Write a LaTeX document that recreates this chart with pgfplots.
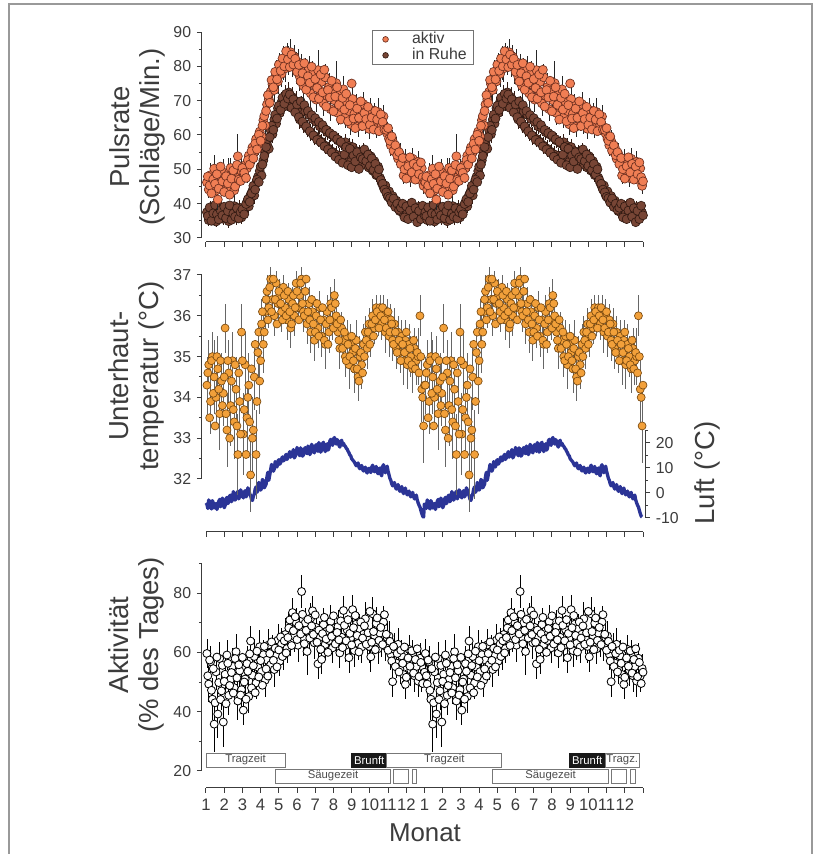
\documentclass[border=0pt]{standalone}
\usepackage{fontspec}
\setmainfont{Liberation Sans}
\usepackage{pgfplots}
\pgfplotsset{compat=1.18}
\usepackage{pgfplotstable}

\definecolor{aktivfill}{HTML}{F07E54}
\definecolor{aktivdraw}{HTML}{6E3020}
\definecolor{ruhefill}{HTML}{774535}
\definecolor{ruhedraw}{HTML}{321A12}
\definecolor{tfill}{HTML}{F2A03A}
\definecolor{tdraw}{HTML}{7A4A10}
\definecolor{luft}{HTML}{2B3496}
\definecolor{axgray}{HTML}{3C3C3C}
\definecolor{boxgray}{HTML}{777777}

% Pulsrate aktiv: month, value, error
\pgfplotstableread{
x y e
0.05 46.2 3.0
0.15 44.1 2.5
0.25 48.3 3.5
0.35 45.5 2.8
0.45 50.2 4.0
0.55 43.8 2.6
0.65 41.2 3.0
0.75 47.6 3.2
0.85 45.0 2.7
0.95 49.1 3.8
1.05 46.8 2.9
1.15 44.5 3.1
1.25 48.9 4.5
1.35 50.4 3.0
1.45 46.1 2.6
1.55 43.9 3.3
1.65 47.7 2.8
1.75 53.8 6.5
1.85 47.8 3.0
1.95 49.5 3.6
2.05 48.0 2.7
2.15 51.2 3.0
2.25 50.3 4.2
2.35 54.0 2.9
2.45 52.6 3.1
2.55 56.4 3.3
2.65 54.9 3.4
2.75 58.8 2.8
2.85 57.2 3.0
2.95 61.0 3.5
3.05 59.6 2.9
3.15 64.3 3.3
3.25 62.8 3.6
3.35 68.9 3.0
3.45 70.4 3.8
3.55 72.6 3.2
3.65 74.8 4.0
3.75 73.1 3.4
3.85 77.5 4.2
3.95 75.6 3.6
4.05 79.3 4.5
4.15 77.8 3.8
4.25 81.0 5.0
4.35 79.4 4.0
4.45 83.2 3.5
4.55 81.7 4.2
4.65 84.1 3.8
4.75 80.9 4.0
4.85 82.8 3.5
4.95 79.6 4.6
5.05 81.2 3.8
5.15 77.0 4.2
5.25 80.1 3.6
5.35 74.3 4.4
5.45 78.6 3.9
5.55 76.0 4.1
5.65 79.4 3.5
5.75 72.1 4.0
5.85 77.7 3.8
5.95 74.6 4.3
6.05 70.3 3.7
6.15 78.9 6.0
6.25 73.0 3.9
6.35 75.5 4.2
6.45 69.2 3.6
6.55 76.8 4.0
6.65 71.4 3.8
6.75 74.0 4.1
6.85 67.5 3.5
6.95 72.8 3.9
7.05 70.1 3.6
7.15 75.1 6.5
7.25 66.4 3.4
7.35 71.9 3.8
7.45 68.0 3.5
7.55 73.3 4.0
7.65 65.2 3.3
7.75 69.6 3.7
7.85 67.0 3.4
7.95 63.1 3.2
8.05 70.5 5.5
8.15 66.2 3.5
8.25 68.4 3.6
8.35 62.5 3.1
8.45 67.1 3.4
8.55 64.3 3.2
8.65 69.0 3.6
8.75 63.4 3.0
8.85 66.0 3.3
8.95 61.8 3.0
9.05 67.3 3.5
9.15 63.9 3.1
9.25 65.8 3.4
9.35 62.0 3.0
9.45 66.7 4.0
9.55 64.1 3.2
9.65 62.9 3.0
9.75 65.4 3.3
9.85 62.2 3.0
9.95 60.4 3.4
10.05 58.9 3.1
10.15 57.0 3.0
10.25 58.3 3.3
10.35 55.2 2.8
10.45 56.4 3.0
10.55 53.1 2.7
10.65 54.4 3.2
10.75 51.6 2.8
10.85 48.2 2.6
10.95 52.9 3.1
11.05 49.7 2.8
11.15 51.8 3.0
11.25 47.5 2.6
11.35 53.1 3.2
11.45 50.0 2.8
11.55 48.4 2.7
11.65 52.2 3.0
11.75 46.9 2.6
11.85 50.3 2.9
11.95 45.2 2.5
}\tabAa
\pgfplotstableread{
x y
0.1 47.9
0.2 45.3
0.3 43.0
0.4 47.1
0.5 45.8
0.6 48.6
0.7 44.4
0.8 50.8
0.9 46.5
1.0 43.4
1.1 48.0
1.2 45.9
1.3 42.6
1.4 47.3
1.5 49.7
1.6 45.0
1.7 51.3
1.8 47.0
1.9 46.6
2.0 50.4
2.1 49.0
2.2 47.5
2.3 52.7
2.4 51.4
2.5 55.3
2.6 53.2
2.7 57.5
2.8 55.8
2.9 60.1
3.0 58.3
3.1 62.7
3.2 65.5
3.3 67.0
3.4 71.6
3.5 69.4
3.6 76.0
3.7 73.9
3.8 78.4
3.9 76.2
4.0 80.5
4.1 78.7
4.2 82.3
4.3 80.0
4.4 84.4
4.5 82.0
4.6 79.8
4.7 83.4
4.8 80.5
4.9 82.2
5.0 78.4
5.1 80.4
5.2 75.6
5.3 78.0
5.4 80.9
5.5 73.2
5.6 77.1
5.7 75.2
5.8 79.9
5.9 71.0
6.0 76.3
6.1 73.7
6.2 70.6
6.3 77.6
6.4 72.4
6.5 79.0
6.6 68.3
6.7 73.1
6.8 70.9
6.9 75.8
7.0 66.9
7.1 71.2
7.2 73.9
7.3 68.8
7.4 64.5
7.5 70.8
7.6 67.4
7.7 72.0
7.8 64.0
7.9 68.7
8.0 75.0
8.1 64.8
8.2 62.0
8.3 67.7
8.4 65.0
8.5 69.8
8.6 62.6
8.7 66.4
8.8 64.6
8.9 68.2
9.0 63.0
9.1 65.1
9.2 61.6
9.3 67.0
9.4 64.5
9.5 61.1
9.6 66.0
9.7 63.8
9.8 61.6
9.9 61.5
10.0 62.0
10.1 58.3
10.2 59.6
10.3 55.4
10.4 57.0
10.5 54.1
10.6 55.0
10.7 51.5
10.8 53.3
10.9 50.0
11.0 47.3
11.1 50.9
11.2 53.5
11.3 49.1
11.4 51.6
11.5 47.0
11.6 50.8
11.7 48.6
11.8 52.0
11.9 47.7
12.0 46.5
}\tabAb

% Pulsrate in Ruhe
\pgfplotstableread{
x y e
0.05 37.5 2.0
0.15 35.2 1.6
0.25 38.4 2.4
0.35 36.1 1.8
0.45 39.0 2.2
0.55 34.8 1.5
0.65 37.7 2.6
0.75 36.3 1.9
0.85 38.9 2.1
0.95 35.6 1.7
1.05 37.9 2.3
1.15 36.8 1.8
1.25 34.9 2.0
1.35 38.2 1.6
1.45 36.5 2.5
1.55 39.3 1.9
1.65 35.9 2.1
1.75 37.4 1.7
1.85 38.8 2.2
1.95 36.0 1.8
2.05 37.6 2.0
2.15 38.9 1.6
2.25 40.4 2.3
2.35 39.2 1.9
2.45 42.6 2.1
2.55 43.8 1.7
2.65 42.4 2.4
2.75 46.1 2.0
2.85 47.8 1.8
2.95 49.5 2.2
3.05 48.2 2.0
3.15 52.6 2.4
3.25 55.0 2.1
3.35 57.3 2.6
3.45 56.0 2.2
3.55 61.4 2.8
3.65 60.2 2.4
3.75 64.5 3.0
3.85 63.3 2.6
3.95 67.8 3.2
4.05 66.4 2.8
4.15 69.6 3.0
4.25 68.2 2.7
4.35 71.3 3.2
4.45 70.0 2.9
4.55 72.4 3.1
4.65 69.5 2.8
4.75 71.0 3.0
4.85 68.3 2.7
4.95 69.8 2.9
5.05 66.7 2.6
5.15 64.5 2.8
5.25 68.9 2.5
5.35 63.2 2.7
5.45 66.8 2.4
5.55 61.9 2.6
5.65 65.9 2.3
5.75 60.8 2.5
5.85 64.6 2.2
5.95 59.7 2.6
6.05 63.8 2.3
6.15 58.9 2.5
6.25 62.5 2.2
6.35 58.0 2.4
6.45 61.9 2.1
6.55 56.9 2.5
6.65 60.8 2.2
6.75 56.0 2.4
6.85 60.2 2.1
6.95 55.1 2.3
7.05 59.3 2.0
7.15 54.3 2.4
7.25 58.4 2.1
7.35 53.9 2.3
7.45 57.6 2.0
7.55 53.2 2.2
7.65 57.9 2.5
7.75 52.6 2.0
7.85 56.8 2.2
7.95 52.2 1.9
8.05 56.5 2.3
8.15 51.5 2.0
8.25 55.3 2.2
8.35 51.6 1.9
8.45 55.0 2.1
8.55 52.1 1.8
8.65 55.4 2.2
8.75 51.3 1.9
8.85 54.6 2.1
8.95 50.5 1.8
9.05 53.8 2.0
9.15 49.6 1.8
9.25 52.4 2.1
9.35 48.3 1.9
9.45 50.8 2.0
9.55 47.6 1.8
9.65 46.0 2.0
9.75 44.8 1.7
9.85 45.3 1.9
9.95 42.5 1.7
10.05 43.6 1.8
10.15 41.0 1.6
10.25 42.2 1.9
10.35 39.6 1.7
10.45 40.9 1.8
10.55 38.8 1.6
10.65 37.8 1.9
10.75 39.1 1.7
10.85 36.9 1.8
10.95 38.5 1.6
11.05 37.2 1.9
11.15 39.6 1.7
11.25 36.4 2.0
11.35 38.1 1.6
11.45 37.6 1.8
11.55 35.8 2.2
11.65 39.0 1.7
11.75 36.7 1.9
11.85 38.3 1.6
11.95 37.4 1.8
}\tabRa
\pgfplotstableread{
x y
0.1 36.4
0.2 38.9
0.3 35.0
0.4 37.2
0.5 39.6
0.6 36.9
0.7 35.4
0.8 38.0
0.9 36.6
1.0 39.1
1.1 35.8
1.2 37.8
1.3 39.5
1.4 35.3
1.5 37.1
1.6 36.2
1.7 38.7
1.8 35.7
1.9 37.5
2.0 38.4
2.1 36.9
2.2 39.9
2.3 41.3
2.4 40.5
2.5 43.0
2.6 45.2
2.7 44.1
2.8 47.0
2.9 46.3
3.0 50.8
3.1 51.4
3.2 53.9
3.3 56.5
3.4 58.8
3.5 59.4
3.6 62.7
3.7 61.5
3.8 65.9
3.9 64.8
4.0 68.5
4.1 67.3
4.2 70.9
4.3 69.1
4.4 72.0
4.5 70.6
4.6 71.8
4.7 67.9
4.8 70.4
4.9 66.6
5.0 68.9
5.1 65.2
5.2 69.8
5.3 63.9
5.4 68.7
5.5 62.5
5.6 67.0
5.7 61.1
5.8 65.8
5.9 59.9
6.0 64.9
6.1 58.6
6.2 63.8
6.3 57.9
6.4 62.9
6.5 56.7
6.6 61.5
6.7 55.8
6.8 60.6
6.9 54.9
7.0 59.9
7.1 53.7
7.2 58.8
7.3 52.8
7.4 58.0
7.5 51.9
7.6 54.3
7.7 56.5
7.8 51.2
7.9 56.0
8.0 50.6
8.1 54.0
8.2 52.3
8.3 55.0
8.4 50.1
8.5 53.5
8.6 53.0
8.7 55.8
8.8 52.4
8.9 54.3
9.0 51.0
9.1 53.2
9.2 49.8
9.3 51.6
9.4 48.5
9.5 50.0
9.6 46.9
9.7 45.8
9.8 44.1
9.9 43.3
10.0 42.0
10.1 41.6
10.2 40.3
10.3 41.5
10.4 39.0
10.5 40.0
10.6 38.2
10.7 38.8
10.8 40.0
10.9 36.0
11.0 39.2
11.1 35.5
11.2 38.0
11.3 40.3
11.4 36.2
11.5 38.7
11.6 34.6
11.7 37.9
11.8 35.5
11.9 39.4
12.0 36.6
}\tabRb

% Unterhauttemperatur
\pgfplotstableread{
x y e
0.05 34.3 0.7
0.15 34.8 0.6
0.25 33.9 0.8
0.35 35.0 0.6
0.45 34.5 0.9
0.55 34.0 0.7
0.65 34.7 0.8
0.75 33.6 0.9
0.85 34.4 0.7
0.95 34.1 0.8
1.05 35.7 0.6
1.15 33.2 0.9
1.25 34.6 0.8
1.35 33.8 1.0
1.45 34.9 0.7
1.55 33.4 0.9
1.65 34.2 0.8
1.75 32.6 1.0
1.85 33.9 0.9
1.95 35.6 0.7
2.05 33.1 1.0
2.15 34.8 0.8
2.25 33.5 0.9
2.35 34.3 0.8
2.45 32.1 0.9
2.55 33.0 1.0
2.65 34.5 0.8
2.75 32.6 1.1
2.85 35.1 0.7
2.95 34.4 0.8
3.05 35.8 0.6
3.15 35.3 0.7
3.25 36.1 0.5
3.35 36.6 0.4
3.45 36.2 0.5
3.55 36.9 0.3
3.65 36.4 0.4
3.75 36.0 0.5
3.85 36.8 0.3
3.95 36.3 0.4
4.05 36.5 0.4
4.15 36.1 0.5
4.25 36.7 0.3
4.35 36.2 0.4
4.45 35.9 0.5
4.55 36.4 0.4
4.65 35.7 0.5
4.75 36.3 0.4
4.85 36.0 0.5
4.95 36.8 0.3
5.05 36.2 0.4
5.15 36.5 0.4
5.25 36.9 0.3
5.35 36.1 0.5
5.45 36.6 0.4
5.55 35.8 0.5
5.65 36.3 0.4
5.75 35.6 0.5
5.85 36.1 0.4
5.95 35.4 0.5
6.05 36.0 0.4
6.15 35.7 0.5
6.25 36.2 0.4
6.35 35.5 0.5
6.45 35.9 0.4
6.55 35.3 0.6
6.65 36.1 0.4
6.75 35.6 0.5
6.85 36.3 0.4
6.95 35.9 0.5
7.05 36.5 0.4
7.15 36.0 0.5
7.25 35.6 0.4
7.35 35.2 0.5
7.45 35.7 0.4
7.55 35.4 0.5
7.65 35.0 0.5
7.75 35.5 0.4
7.85 34.8 0.6
7.95 35.3 0.5
8.05 35.1 0.5
8.15 34.7 0.6
8.25 35.4 0.5
8.35 34.5 0.6
8.45 35.0 0.5
8.55 34.8 0.6
8.65 35.3 0.5
8.75 35.6 0.4
8.85 35.2 0.5
8.95 35.8 0.4
9.05 35.5 0.5
9.15 36.0 0.4
9.25 35.7 0.4
9.35 36.2 0.3
9.45 35.9 0.4
9.55 36.2 0.3
9.65 35.8 0.4
9.75 36.1 0.4
9.85 35.6 0.5
9.95 36.0 0.4
10.05 35.5 0.5
10.15 35.9 0.4
10.25 35.4 0.5
10.35 35.8 0.4
10.45 35.2 0.5
10.55 35.6 0.4
10.65 35.1 0.5
10.75 35.5 0.4
10.85 34.9 0.6
10.95 35.4 0.5
11.05 34.8 0.6
11.15 35.3 0.5
11.25 35.0 0.5
11.35 34.7 0.6
11.45 35.2 0.5
11.55 34.9 0.6
11.65 35.0 0.7
11.75 36.0 0.5
11.85 34.2 0.8
11.95 33.3 0.9
}\tabTa
\pgfplotstableread{
x y
0.1 34.6
0.2 33.5
0.3 34.9
0.4 34.1
0.5 33.3
0.6 35.0
0.7 34.2
0.8 34.9
0.9 33.8
1.0 34.5
1.1 33.6
1.2 34.9
1.3 33.0
1.4 34.4
1.5 33.7
1.6 34.8
1.7 33.3
1.8 34.6
1.9 33.1
2.0 34.9
2.1 33.7
2.2 32.6
2.3 34.0
2.4 33.4
2.5 34.7
2.6 33.2
2.7 35.3
2.8 33.9
2.9 35.6
3.0 34.9
3.1 36.1
3.2 35.6
3.3 36.4
3.4 35.9
3.5 36.7
3.6 36.1
3.7 36.9
3.8 36.4
3.9 35.8
4.0 36.6
4.1 36.3
4.2 35.9
4.3 36.5
4.4 36.0
4.5 36.6
4.6 36.1
4.7 35.8
4.8 36.5
4.9 36.2
5.0 36.6
5.1 35.9
5.2 36.8
5.3 36.3
5.4 36.0
5.5 36.9
5.6 36.1
5.7 35.9
5.8 36.4
5.9 35.8
6.0 35.6
6.1 36.3
6.2 35.5
6.3 35.9
6.4 36.2
6.5 35.4
6.6 35.8
6.7 35.3
6.8 35.9
6.9 36.2
7.0 35.7
7.1 36.3
7.2 35.8
7.3 35.4
7.4 35.9
7.5 35.2
7.6 35.6
7.7 34.9
7.8 35.3
7.9 35.0
8.0 35.5
8.1 34.9
8.2 35.2
8.3 34.7
8.4 34.4
8.5 35.1
8.6 34.6
8.7 35.0
8.8 35.4
8.9 35.6
9.0 35.3
9.1 35.8
9.2 35.5
9.3 35.9
9.4 36.1
9.5 35.7
9.6 36.0
9.7 36.2
9.8 35.9
9.9 35.7
10.0 36.1
10.1 35.6
10.2 35.8
10.3 35.3
10.4 35.6
10.5 35.1
10.6 35.4
10.7 34.9
10.8 35.3
10.9 35.1
11.0 35.6
11.1 34.9
11.2 35.2
11.3 34.8
11.4 35.4
11.5 34.7
11.6 35.1
11.7 34.6
11.8 35.0
11.9 34.0
12.0 34.3
}\tabTb

% Lufttemperatur (right axis)
\pgfplotstableread{
x y
0.00 -4.0
0.05 -4.5
0.10 -6.2
0.15 -2.8
0.20 -3.9
0.25 -5.6
0.30 -6.4
0.35 -3.1
0.40 -4.0
0.45 -6.0
0.50 -5.2
0.55 -4.2
0.60 -6.6
0.65 -5.3
0.70 -3.4
0.75 -2.6
0.80 -5.5
0.85 -4.8
0.90 -2.1
0.95 -3.0
1.00 -5.9
1.05 -5.1
1.10 -2.5
1.15 -1.8
1.20 -4.3
1.25 -3.6
1.30 -1.2
1.35 -0.9
1.40 -3.5
1.45 -2.7
1.50 0.5
1.55 -0.4
1.60 -2.9
1.65 -2.2
1.70 -0.1
1.75 0.6
1.80 -2.4
1.85 -1.5
1.90 1.2
1.95 0.3
2.00 -1.2
2.05 -2.0
2.10 0.2
2.15 0.9
2.20 -1.6
2.25 -0.8
2.30 2.0
2.35 1.2
2.40 -0.3
2.45 -1.1
2.50 -2.6
2.55 -3.0
2.60 -1.4
2.65 -0.5
2.70 1.5
2.75 2.4
2.80 0.2
2.85 1.0
2.90 4.1
2.95 3.6
3.00 1.1
3.05 1.8
3.10 5.3
3.15 4.9
3.20 2.0
3.25 2.7
3.30 3.4
3.35 6.5
3.40 8.2
3.45 5.0
3.50 7.1
3.55 9.2
3.60 11.3
3.65 10.6
3.70 8.6
3.75 9.5
3.80 12.4
3.85 11.8
3.90 10.3
3.95 12.6
4.00 13.2
4.05 11.4
4.10 12.0
4.15 13.5
4.20 14.3
4.25 12.7
4.30 13.1
4.35 14.6
4.40 15.3
4.45 13.3
4.50 14.0
4.55 15.4
4.60 16.4
4.65 14.2
4.70 15.0
4.75 16.1
4.80 17.2
4.85 13.9
4.90 14.6
4.95 15.7
5.00 18.0
5.05 17.3
5.10 15.5
5.15 14.8
5.20 17.9
5.25 16.6
5.30 14.6
5.35 15.1
5.40 17.4
5.45 18.0
5.50 16.2
5.55 15.6
5.60 18.6
5.65 17.7
5.70 15.2
5.75 16.0
5.80 19.3
5.85 18.6
5.90 16.7
5.95 15.9
6.00 18.4
6.05 19.2
6.10 17.4
6.15 16.5
6.20 20.0
6.25 18.8
6.30 16.2
6.35 17.0
6.40 19.6
6.45 20.1
6.50 17.8
6.55 16.4
6.60 18.7
6.65 19.5
6.70 17.0
6.75 17.6
6.80 20.6
6.85 21.3
6.90 19.6
6.95 18.9
7.00 21.4
7.05 22.0
7.10 20.5
7.15 19.4
7.20 21.2
7.25 20.6
7.30 18.9
7.35 18.2
7.40 20.4
7.45 20.9
7.50 19.0
7.55 19.7
7.60 18.9
7.65 18.5
7.70 17.8
7.75 17.4
7.80 16.6
7.85 16.0
7.90 15.1
7.95 14.7
8.00 13.6
8.05 13.1
8.10 12.7
8.15 12.2
8.20 11.5
8.25 10.8
8.30 11.2
8.35 11.9
8.40 10.2
8.45 9.6
8.50 10.4
8.55 10.9
8.60 9.3
8.65 8.7
8.70 9.6
8.75 10.2
8.80 8.5
8.85 7.9
8.90 9.1
8.95 9.8
9.00 8.6
9.05 8.1
9.10 10.2
9.15 11.0
9.20 9.0
9.25 8.4
9.30 9.8
9.35 10.5
9.40 8.3
9.45 7.6
9.50 9.1
9.55 9.9
9.60 7.5
9.65 6.8
9.70 10.4
9.75 11.2
9.80 8.9
9.85 8.0
9.90 9.7
9.95 10.6
10.00 8.6
10.05 7.2
10.10 5.8
10.15 5.0
10.20 3.6
10.25 2.8
10.30 3.5
10.35 4.1
10.40 2.3
10.45 1.5
10.50 2.5
10.55 3.3
10.60 1.4
10.65 0.6
10.70 1.8
10.75 2.5
10.80 0.5
10.85 -0.3
10.90 1.0
10.95 1.9
11.00 0.1
11.05 -0.8
11.10 0.0
11.15 0.7
11.20 -0.8
11.25 -1.6
11.30 -0.5
11.35 0.2
11.40 -1.5
11.45 -2.4
11.50 -1.6
11.55 -0.9
11.60 -2.8
11.65 -4.0
11.70 -4.9
11.75 -5.6
11.80 -7.0
11.85 -8.2
11.90 -9.3
11.95 -9.6
12.00 -4.0
}\tabL

% Aktivitaet
\pgfplotstableread{
x y e
0.05 59.6 5.0
0.15 49.3 6.0
0.25 56.8 5.5
0.35 44.2 7.0
0.45 35.8 9.5
0.55 53.4 6.0
0.65 39.2 8.0
0.75 57.9 5.5
0.85 47.0 6.5
0.95 36.5 8.5
1.05 52.6 6.0
1.15 59.1 5.0
1.25 45.5 6.5
1.35 50.9 5.5
1.45 55.3 6.0
1.55 48.1 5.5
1.65 60.2 6.0
1.75 43.6 6.5
1.85 53.8 5.5
1.95 47.4 6.0
2.05 40.5 5.0
2.15 51.0 5.5
2.25 56.2 6.0
2.35 45.1 5.5
2.45 63.8 5.0
2.55 52.3 5.5
2.65 58.6 6.0
2.75 49.7 5.5
2.85 55.0 5.0
2.95 61.9 5.5
3.05 53.5 6.0
3.15 59.2 5.0
3.25 50.6 5.5
3.35 57.4 5.0
3.45 62.5 5.5
3.55 55.8 5.0
3.65 60.3 5.5
3.75 54.2 6.0
3.85 58.9 5.0
3.95 64.1 5.5
4.05 57.0 5.0
4.15 62.8 5.5
4.25 59.1 5.0
4.35 66.0 5.5
4.45 61.3 5.0
4.55 68.2 5.5
4.65 63.7 5.0
4.75 73.4 5.0
4.85 65.5 5.5
4.95 70.1 5.0
5.05 62.4 5.5
5.15 67.8 5.0
5.25 80.5 5.5
5.35 64.6 6.0
5.45 69.9 5.0
5.55 60.3 8.0
5.65 66.9 5.5
5.75 71.5 5.0
5.85 74.0 5.0
5.95 63.2 5.5
6.05 68.4 5.0
6.15 56.1 5.0
6.25 65.0 5.5
6.35 57.6 5.0
6.45 69.3 5.5
6.55 62.7 5.0
6.65 67.2 5.5
6.75 64.0 5.0
6.85 70.4 5.5
6.95 61.5 5.0
7.05 66.3 5.5
7.15 63.6 5.0
7.25 68.7 5.5
7.35 59.8 5.0
7.45 65.1 5.5
7.55 74.1 5.0
7.65 62.3 5.5
7.75 67.6 5.0
7.85 58.2 5.0
7.95 64.9 5.5
8.05 74.4 5.0
8.15 60.6 5.5
8.25 69.5 5.0
8.35 63.0 5.5
8.45 67.9 5.0
8.55 61.8 5.5
8.65 66.1 5.0
8.75 71.3 5.5
8.85 64.4 5.0
8.95 62.0 5.5
9.05 58.5 5.0
9.15 73.0 5.5
9.25 65.7 5.0
9.35 69.8 5.5
9.45 61.2 5.0
9.55 66.5 5.5
9.65 63.3 5.0
9.75 70.2 5.5
9.85 62.1 5.0
9.95 65.0 5.5
10.05 65.5 5.0
10.15 59.4 5.5
10.25 50.1 5.0
10.35 61.0 5.5
10.45 56.4 5.0
10.55 62.7 5.5
10.65 54.3 5.0
10.75 58.8 5.5
10.85 52.5 5.0
10.95 49.2 5.0
11.05 57.3 5.5
11.15 61.0 5.0
11.25 54.0 5.5
11.35 59.0 5.0
11.45 52.1 5.5
11.55 55.2 5.0
11.65 50.3 5.5
11.75 58.0 5.0
11.85 52.0 5.5
11.95 54.6 5.0
}\tabKa
\pgfplotstableread{
x y
0.1 52.1
0.2 57.4
0.3 47.2
0.4 54.5
0.5 43.0
0.6 58.4
0.7 49.8
0.8 44.1
0.9 55.6
1.0 50.2
1.1 42.7
1.2 56.3
1.3 48.8
1.4 53.2
1.5 46.3
1.6 57.9
1.7 51.4
1.8 55.8
1.9 45.6
2.0 58.3
2.1 50.0
2.2 44.2
2.3 53.6
2.4 59.5
2.5 48.0
2.6 55.5
2.7 46.4
2.8 60.4
2.9 51.7
3.0 57.2
3.1 48.9
3.2 62.0
3.3 54.4
3.4 52.0
3.5 59.6
3.6 63.5
3.7 57.3
3.8 61.4
3.9 55.1
4.0 60.8
4.1 65.2
4.2 58.6
4.3 63.9
4.4 59.8
4.5 65.0
4.6 70.9
4.7 62.3
4.8 67.3
4.9 72.0
5.0 64.3
5.1 69.0
5.2 66.2
5.3 72.8
5.4 62.9
5.5 67.4
5.6 71.1
5.7 64.8
5.8 68.9
5.9 66.0
6.0 72.6
6.1 63.4
6.2 67.5
6.3 61.0
6.4 66.3
6.5 71.8
6.6 64.5
6.7 60.0
6.8 68.0
6.9 65.4
7.0 72.3
7.1 62.8
7.2 66.7
7.3 64.2
7.4 70.6
7.5 61.6
7.6 69.1
7.7 63.9
7.8 71.0
7.9 66.4
8.0 62.5
8.1 68.3
8.2 72.4
8.3 65.7
8.4 60.1
8.5 70.2
8.6 64.8
8.7 68.9
8.8 62.7
8.9 66.6
9.0 73.8
9.1 63.4
9.2 67.0
9.3 60.9
9.4 71.6
9.5 64.0
9.6 68.4
9.7 62.6
9.8 72.7
9.9 66.1
10.0 60.7
10.1 63.7
10.2 57.1
10.3 62.0
10.4 55.2
10.5 59.6
10.6 53.4
10.7 60.7
10.8 56.3
10.9 61.8
11.0 51.6
11.1 58.1
11.2 55.3
11.3 60.5
11.4 53.0
11.5 57.6
11.6 61.2
11.7 51.8
11.8 56.6
11.9 49.5
12.0 53.3
}\tabKb

\pgfplotsset{
  geo/.style={scale only axis, width=262.2pt, xmin=0, xmax=24, clip=false, anchor=south west},
  topgeo/.style={geo, at={(123.6pt,369.6pt)}, height=123.6pt, ymin=30, ymax=90},
  midgeo/.style={geo, at={(123.6pt,225pt)}, height=122.4pt, ymin=32, ymax=37},
  botgeo/.style={geo, at={(123.6pt,49.8pt)}, height=124.6pt, ymin=20, ymax=90},
  panel/.style={
    axis line style={axgray, line width=0.6pt},
    every tick/.style={axgray, line width=0.6pt},
    tick align=outside,
    major tick length=3pt, minor tick length=1.8pt,
    xtick={0,...,24},
    /pgf/number format/assume math mode=true,
    yticklabel style={font=\fontsize{9.5}{11}\selectfont, text=axgray},
    xticklabel style={font=\fontsize{10}{12}\selectfont, text=axgray},
  },
  errs/.style={error bars/.cd, y dir=both, y explicit, error mark=none,
    error bar style={line width=0.45pt, #1}},
  aktivm/.style={forget plot, only marks, mark=*, mark size=2.7pt,
    mark options={fill=aktivfill, draw=aktivdraw, line width=0.4pt}},
  ruhem/.style={forget plot, only marks, mark=*, mark size=2.7pt,
    mark options={fill=ruhefill, draw=ruhedraw, line width=0.4pt}},
  hautm/.style={only marks, mark=*, mark size=2.4pt,
    mark options={fill=tfill, draw=tdraw, line width=0.4pt}},
  aktm/.style={only marks, mark=*, mark size=2.4pt,
    mark options={fill=white, draw=black, line width=0.5pt}},
}

\newcommand{\boxT}[3]{\draw[boxgray, fill=white, line width=0.5pt] (axis cs:#1,21.35) rectangle (axis cs:#2,26.07);
  \node[text=black!70, font=\fontsize{6.8}{8}\selectfont, inner sep=0pt] at (axis cs:{(#1+#2)/2},23.71) {#3};}
\newcommand{\boxB}[3]{\draw[boxgray, fill=white, line width=0.5pt] (axis cs:#1,15.96) rectangle (axis cs:#2,20.67);
  \node[text=black!70, font=\fontsize{6.8}{8}\selectfont, inner sep=0pt] at (axis cs:{(#1+#2)/2},18.31) {#3};}
\newcommand{\boxBr}[2]{\draw[black!90, fill=black!90, line width=0.5pt] (axis cs:#1,21.35) rectangle (axis cs:#2,26.07);
  \node[text=white, font=\fontsize{6.8}{8}\selectfont, inner sep=0pt] at (axis cs:{(#1+#2)/2},23.71) {Brunft};}

\begin{document}
\begin{tikzpicture}
\path[use as bounding box] (0,0) rectangle (489.6pt,512.4pt);
\draw[black!40, line width=0.8pt] (5.4pt,0pt) -- (5.4pt,510pt) -- (487.2pt,510pt) -- (487.2pt,0pt);

% ---------- top panel ----------
\begin{axis}[topgeo, panel, ytick={30,40,...,90}, minor y tick num=1,
  axis x line*=bottom, axis y line*=left,
  axis x line shift=2.4pt, axis y line shift=2.4pt,
  xticklabel=\empty,
  legend image code/.code={\path (0pt,0pt) (19pt,0pt); \draw[#1] plot coordinates {(4pt,0pt)};},
  legend style={at={(0.38,1.012)}, anchor=north west, draw=black!55, line width=0.6pt,
    font=\fontsize{9.5}{10.5}\selectfont, text=axgray, inner xsep=3.5pt, inner ysep=0.8pt,
    row sep=0pt, nodes={inner sep=0.6pt}, cells={anchor=west}},
]
\addlegendimage{only marks, mark=*, mark size=1.7pt, mark options={fill=aktivfill, draw=aktivdraw, line width=0.4pt}}
\addlegendentry{aktiv}
\addlegendimage{only marks, mark=*, mark size=1.7pt, mark options={fill=ruhefill, draw=ruhedraw, line width=0.4pt}}
\addlegendentry{in Ruhe}
\addplot[ruhem, errs={ruhedraw}] table[x=x, y=y, y error=e] {\tabRa};
\addplot[ruhem] table[x=x, y=y] {\tabRb};
\end{axis}
\begin{axis}[topgeo, hide axis]
\addplot[ruhem, errs={ruhedraw}] table[x expr=\thisrow{x}+12, y=y, y error=e] {\tabRa};
\addplot[ruhem] table[x expr=\thisrow{x}+12, y=y] {\tabRb};
\end{axis}
\begin{axis}[topgeo, hide axis]
\addplot[aktivm, errs={black!85}] table[x=x, y=y, y error=e] {\tabAa};
\addplot[aktivm] table[x=x, y=y] {\tabAb};
\end{axis}
\begin{axis}[topgeo, hide axis]
\addplot[aktivm, errs={black!85}] table[x expr=\thisrow{x}+12, y=y, y error=e] {\tabAa};
\addplot[aktivm] table[x expr=\thisrow{x}+12, y=y] {\tabAb};
\end{axis}

% ---------- middle panel: air temperature (right axis) ----------
\begin{axis}[geo, panel, at={(123.6pt,201.6pt)}, height=52.8pt,
  ymin=-10, ymax=25, ytick={-10,0,10,20}, yticklabels={-10,0,10,20}, minor ytick={-5,5,15,25},
  axis x line*=bottom, axis y line*=right,
  axis x line shift=8.4pt, axis y line shift=1.2pt,
  xticklabel=\empty,
]
\addplot[luft, line width=2pt, no marks, line join=round] table[x=x, y=y] {\tabL};
\addplot[luft, line width=2pt, no marks, line join=round, skip coords between index={240}{241}]
  table[x expr=\thisrow{x}+12, y=y] {\tabL};
\end{axis}

% ---------- middle panel: subcutaneous temperature (left axis) ----------
\begin{axis}[midgeo, panel, ytick={32,...,37}, minor y tick num=1,
  axis x line=none, axis y line*=left, axis y line shift=2.4pt,
]
\addplot[hautm, errs={black!60}] table[x=x, y=y, y error=e] {\tabTa};
\addplot[hautm] table[x=x, y=y] {\tabTb};
\end{axis}
\begin{axis}[midgeo, hide axis]
\addplot[hautm, errs={black!60}] table[x expr=\thisrow{x}+12, y=y, y error=e] {\tabTa};
\addplot[hautm] table[x expr=\thisrow{x}+12, y=y] {\tabTb};
\end{axis}

% ---------- bottom panel ----------
\begin{axis}[botgeo, panel, ytick={20,40,60,80}, minor ytick={30,50,70,90},
  axis x line*=bottom, axis y line*=left,
  axis x line shift=10.2pt, axis y line shift=2.4pt,
  xticklabels={1,2,3,4,5,6,7,8,9,10,11,12,1,2,3,4,5,6,7,8,9,10,11,12,{}},
]
\addplot[aktm, errs={black}] table[x=x, y=y, y error=e] {\tabKa};
\addplot[aktm] table[x=x, y=y] {\tabKb};
\end{axis}
\begin{axis}[botgeo, hide axis]
\addplot[aktm, errs={black}] table[x expr=\thisrow{x}+12, y=y, y error=e] {\tabKa};
\addplot[aktm] table[x expr=\thisrow{x}+12, y=y] {\tabKb};
\boxT{0}{4.35}{Tragzeit}
\boxBr{8.0}{9.93}
\boxT{9.93}{16.25}{Tragzeit}
\boxB{3.8}{10.15}{Säugezeit}
\boxB{10.28}{11.1}{}
\boxB{11.33}{11.57}{}
\boxB{15.75}{22.1}{Säugezeit}
\boxB{22.28}{23.1}{}
\boxB{23.33}{23.57}{}
\boxBr{19.95}{21.92}
\boxT{21.92}{23.8}{Tragz.}
\end{axis}

% ---------- axis titles ----------
\node[rotate=90, align=center, font=\fontsize{16.5}{18}\selectfont, text=axgray] at (82.5pt,430.2pt) {Pulsrate\\(Schläge/Min.)};
\node[rotate=90, align=center, font=\fontsize{16.5}{18}\selectfont, text=axgray] at (81.6pt,286.8pt) {Unterhaut-\\temperatur (°C)};
\node[rotate=90, align=center, font=\fontsize{16.5}{18}\selectfont, text=axgray] at (81.6pt,125.4pt) {Aktivität\\(\% des Tages)};
\node[rotate=90, font=\fontsize{16.5}{18}\selectfont, text=axgray] at (424.2pt,228.6pt) {Luft (°C)};
\node[font=\fontsize{15.5}{17}\selectfont, text=axgray] at (255pt,12.6pt) {Monat};
\end{tikzpicture}
\end{document}
